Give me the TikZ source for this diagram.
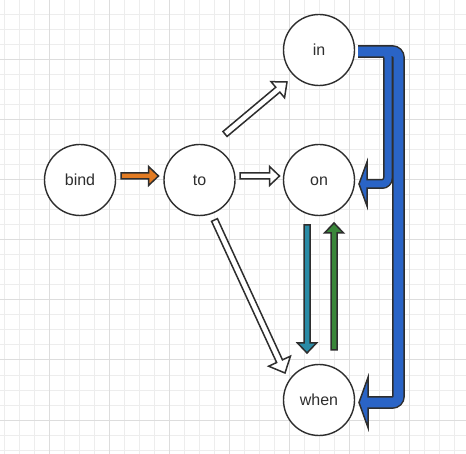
\documentclass[tikz,border=0pt]{standalone}
\usepackage{fontspec}
\setmainfont{Liberation Sans}
\usetikzlibrary{calc}
\definecolor{gridminor}{HTML}{EDEDED}
\definecolor{gridmajor}{HTML}{DDDDDD}
\definecolor{ink}{HTML}{2E2E2E}
\definecolor{arrorange}{HTML}{E27B22}
\definecolor{arrteal}{HTML}{2A8BA6}
\definecolor{arrgreen}{HTML}{3A873A}
\definecolor{arrblue}{HTML}{2A64C6}
\newcommand{\straightblock}[6]{%
  \coordinate (sbA) at (#2);
  \coordinate (sbB) at (#3);
  \coordinate (sbH) at ($(sbB)!#6!(sbA)$);
  \draw[blockline, fill=#1] ($(sbA)!#4!90:(sbB)$) -- ($(sbH)!#4!90:(sbB)$) -- ($(sbH)!#5!90:(sbB)$) -- (sbB) -- ($(sbH)!#5!-90:(sbB)$) -- ($(sbH)!#4!-90:(sbB)$) -- ($(sbA)!#4!-90:(sbB)$) -- cycle;
}
\tikzset{
  word/.style={circle, draw=ink, line width=1.4pt, fill=white, minimum size=71pt, inner sep=0pt, outer sep=0pt, text=ink, font=\fontsize{16}{16}\selectfont, text height=12pt, text depth=0pt},
  blockline/.style={draw=ink, line width=1.5pt, line join=miter},
  minorline/.style={draw=gridminor, line width=1pt},
  majorline/.style={draw=gridmajor, line width=1pt},
}
\begin{document}
\begin{tikzpicture}[x=1pt, y=-1pt]
\fill[white] (0,0) rectangle (466,454);
\useasboundingbox (0,0) rectangle (466,454);
% grid
\foreach \x in {4,19,...,466} \draw[minorline] (\x,0) -- (\x,454);
\foreach \y in {0,15,...,454} \draw[minorline] (0,\y) -- (466,\y);
\foreach \x in {49,109,...,466} \draw[majorline] (\x,0) -- (\x,454);
\foreach \y in {0,60,...,454} \draw[majorline] (0,\y) -- (466,\y);
% nodes
\node[word] (bind) at (80,180) {bind};
\node[word] (to) at (199.5,180) {to};
\node[word] (on) at (319,180) {on};
\node[word] (in) at (319,50) {in};
\node[word] (when) at (319,400) {when};
% endpoints
\coordinate (btS) at ($(bind.east)+(5.5,-4)$);
\coordinate (btE) at ($(to.west)+(-5.5,-4)$);
\coordinate (toS) at ($(to.east)+(5,-4)$);
\coordinate (toE) at ($(on.west)+(-4,-4)$);
\coordinate (tiS) at ($(to)+(25.5,-46)$);
\coordinate (tiE) at ($(in)+(-32,32)$);
\coordinate (twS) at ($(to)+(15,40)$);
\coordinate (twE) at ($(when)+(-34,-27)$);
\coordinate (owS) at ($(on)+(-12,45)$);
\coordinate (owE) at ($(when)+(-12,-47)$);
\coordinate (woS) at ($(when)+(15,-50)$);
\coordinate (woE) at ($(on)+(15,43)$);
% straight block arrows
\straightblock{arrorange}{btS}{btE}{3pt}{9.5pt}{10pt}
\straightblock{white}{toS}{toE}{3pt}{9.5pt}{10pt}
\straightblock{white}{tiS}{tiE}{3.2pt}{10.5pt}{12pt}
\straightblock{white}{twS}{twE}{3.2pt}{12pt}{13pt}
\straightblock{arrteal}{owS}{owE}{3pt}{9.5pt}{10pt}
\straightblock{arrgreen}{woS}{woE}{3pt}{9.5pt}{10pt}
% bent blue arrows
\coordinate (bS) at ($(in.east)+(3.5,1.5)$);
\coordinate (b1T) at ($(on.east)+(4.5,4)$);
\coordinate (b1H) at ($(b1T)+(8,0)$);
\coordinate (b1F) at ($(b1T)+(6,0)$);
\coordinate (b1C) at ($(b1T)+(29,0)$);
\coordinate (b2T) at ($(when.east)+(4.5,2.5)$);
\coordinate (b2H) at ($(b2T)+(9,0)$);
\coordinate (b2F) at ($(b2T)+(7,0)$);
\coordinate (b2C) at ($(b2T)+(39.5,0)$);
\draw[ink, line width=12.6pt, rounded corners=6pt] (bS) -| (b2C) -- (b2H);
\draw[ink, line width=10pt, rounded corners=6pt] (bS) -| (b1C) -- (b1H);
\draw[blockline, fill=arrblue] ($(b1H)+(0,-22)$) -- (b1T) -- ($(b1H)+(0,22)$) -- cycle;
\draw[blockline, fill=arrblue] ($(b2H)+(0,-25)$) -- (b2T) -- ($(b2H)+(0,25)$) -- cycle;
\draw[arrblue, line width=9.6pt, rounded corners=6pt] (bS) -| (b2C) -- (b2F);
\draw[arrblue, line width=7pt, rounded corners=6pt] (bS) -| (b1C) -- (b1F);
\end{tikzpicture}
\end{document}
